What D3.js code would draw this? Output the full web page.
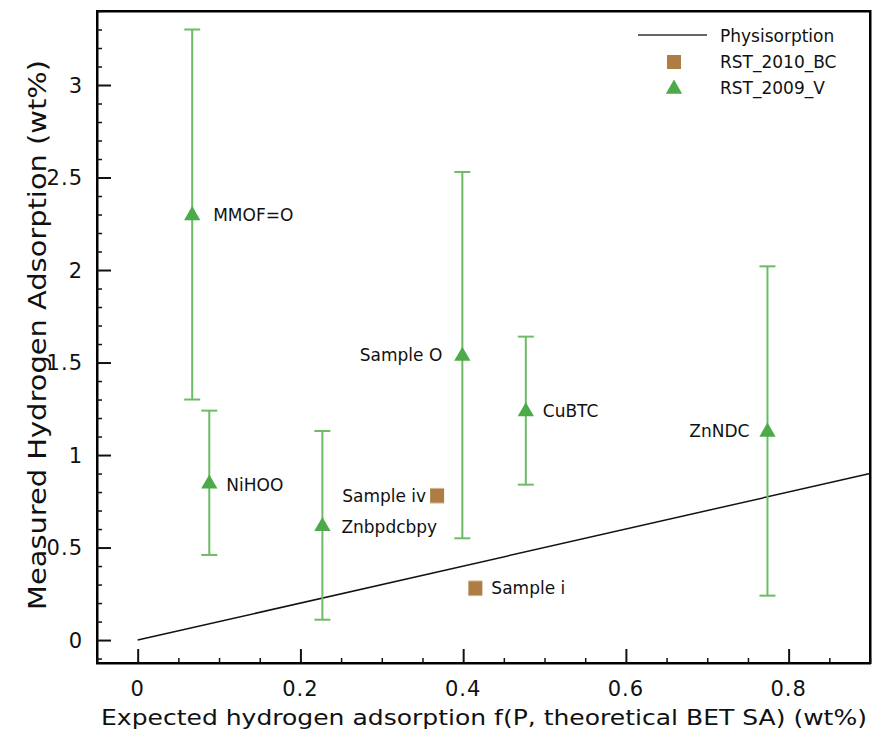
<!DOCTYPE html>
<html>
<head>
<meta charset="utf-8">
<script src="https://cdn.jsdelivr.net/npm/d3@7"></script>
<style>
  body { margin: 0; background: #fff; }
  text { font-family: "DejaVu Sans", Verdana, sans-serif; fill: #111; }
</style>
</head>
<body>
<svg id="chart" width="875" height="735"></svg>
<script>
// RST_2009_V (triangles)
const vNames = ['MMOF=O', 'NiHOO', 'Znbpdcbpy', 'Sample O', 'CuBTC', 'ZnNDC'];
const vX = [0.067, 0.088, 0.227, 0.399, 0.477, 0.774];
const vY = [2.30, 0.85, 0.62, 1.54, 1.24, 1.13];
const vErr = [1.00, 0.39, 0.51, 0.99, 0.40, 0.89];

// RST_2010_BC (squares)
const bcNames = ['Sample iv', 'Sample i'];
const bcX = [0.368, 0.415];
const bcY = [0.78, 0.28];
const bcErr = [0.04, 0.04];

// physisorption line y = x
const physX = [0, 0.9];
const physY = [0, 0.9];

const xTicks = [0, 0.2, 0.4, 0.6, 0.8];
const yTicks = [0, 0.5, 1, 1.5, 2, 2.5, 3];

const pl = 97, pt = 11, pr = 870, pb = 663;
const svg = d3.select('#chart');

const x = d3.scaleLinear().domain([-0.05, 0.9]).range([pl, pr]);
const y = d3.scaleLinear().domain([-0.124, 3.4]).range([pb, pt]);

// frame (drawn first, as four separate edges)
const frame = svg.append('g');
frame.append('rect').attr('x', pl - 1).attr('y', pt - 1).attr('width', pr - pl + 2).attr('height', 2.5).attr('fill', '#000');
frame.append('rect').attr('x', pr - 1).attr('y', pt - 1).attr('width', 2.5).attr('height', pb - pt + 2).attr('fill', '#000');
frame.append('rect').attr('x', pl - 1).attr('y', pb - 1).attr('width', pr - pl + 2).attr('height', 2.5).attr('fill', '#000');
frame.append('rect').attr('x', pl - 1).attr('y', pt - 1).attr('width', 2.5).attr('height', pb - pt + 2).attr('fill', '#000');

// minor ticks
const xMinor = d3.range(-0.05, 0.9001, 0.05).filter(v => Math.abs(v / 0.2 - Math.round(v / 0.2)) > 1e-6);
const yMinor = d3.range(-0.1, 3.4001, 0.1).filter(v => Math.abs(v / 0.5 - Math.round(v / 0.5)) > 1e-6);

svg.append('g')
  .attr('transform', 'translate(0,' + pb + ')')
  .call(d3.axisTop(x).tickValues(xMinor).tickSize(5).tickFormat(''))
  .call(g => g.select('.domain').remove())
  .selectAll('line').attr('stroke', '#111').attr('stroke-width', 1.5);

svg.append('g')
  .attr('transform', 'translate(0,' + pb + ')')
  .call(d3.axisTop(x).tickValues(xTicks).tickSize(14).tickFormat(''))
  .call(g => g.select('.domain').remove())
  .selectAll('line').attr('stroke', '#111').attr('stroke-width', 2);

svg.append('g')
  .attr('transform', 'translate(' + pl + ',0)')
  .call(d3.axisRight(y).tickValues(yMinor).tickSize(5).tickFormat(''))
  .call(g => g.select('.domain').remove())
  .selectAll('line').attr('stroke', '#111').attr('stroke-width', 1.5);

svg.append('g')
  .attr('transform', 'translate(' + pl + ',0)')
  .call(d3.axisRight(y).tickValues(yTicks).tickSize(14).tickFormat(''))
  .call(g => g.select('.domain').remove())
  .selectAll('line').attr('stroke', '#111').attr('stroke-width', 2);

// tick labels
svg.selectAll('.xl').data(xTicks).enter().append('text')
  .attr('x', d => x(d)).attr('y', 696)
  .attr('text-anchor', 'middle').attr('font-size', 21)
  .attr('letter-spacing', 1)
  .text(d => d);

svg.selectAll('.yl').data(yTicks).enter().append('text')
  .attr('x', 83).attr('y', d => y(d) + 7.5)
  .attr('text-anchor', 'end').attr('font-size', 21)
  .attr('letter-spacing', 1)
  .text(d => d);

// axis titles
svg.append('text')
  .attr('x', 484).attr('y', 725)
  .attr('text-anchor', 'middle').attr('font-size', 21)
  .attr('textLength', 766).attr('lengthAdjust', 'spacingAndGlyphs')
  .text('Expected hydrogen adsorption f(P, theoretical BET SA) (wt%)');

svg.append('text')
  .attr('transform', 'translate(46,335) rotate(-90)')
  .attr('text-anchor', 'middle').attr('font-size', 24)
  .attr('textLength', 550).attr('lengthAdjust', 'spacingAndGlyphs')
  .text('Measured Hydrogen Adsorption (wt%)');

// physisorption line
svg.append('path')
  .datum(physX.map((d, i) => [d, physY[i]]))
  .attr('d', d3.line().x(d => x(d[0])).y(d => y(d[1])))
  .attr('stroke', '#111').attr('stroke-width', 1.5).attr('fill', 'none');

const green = '#4caa48';
const greenBar = '#6dbb66';
const brown = '#ad7d43';

// error bars for triangles
const vData = vNames.map((n, i) => ({ name: n, x: vX[i], y: vY[i], e: vErr[i] }));
const ebar = svg.append('g').attr('stroke', greenBar).attr('stroke-width', 2);
vData.forEach(d => {
  ebar.append('line').attr('x1', x(d.x)).attr('x2', x(d.x))
    .attr('y1', y(d.y - d.e)).attr('y2', y(d.y + d.e));
  [d.y - d.e, d.y + d.e].forEach(v => {
    ebar.append('line').attr('x1', x(d.x) - 8).attr('x2', x(d.x) + 8)
      .attr('y1', y(v)).attr('y2', y(v));
  });
});

const tri = d3.symbol().type(d3.symbolTriangle).size(115);
svg.selectAll('.tri').data(vData).enter().append('path')
  .attr('d', tri)
  .attr('transform', d => 'translate(' + x(d.x) + ',' + (y(d.y) + 1) + ')')
  .attr('fill', green);

// squares with small error bars
const bcData = bcNames.map((n, i) => ({ name: n, x: bcX[i], y: bcY[i], e: bcErr[i] }));
const sbar = svg.append('g').attr('stroke', '#d8c0a0').attr('stroke-width', 1);
bcData.forEach(d => {
  [d.y - d.e, d.y + d.e].forEach(v => {
    sbar.append('line').attr('x1', x(d.x) - 7).attr('x2', x(d.x) + 7)
      .attr('y1', y(v)).attr('y2', y(v));
  });
});
svg.selectAll('.sq').data(bcData).enter().append('rect')
  .attr('x', d => x(d.x) - 7).attr('y', d => y(d.y) - 7)
  .attr('width', 14).attr('height', 14)
  .attr('fill', brown);

// point labels
const labelPos = {
  'MMOF=O': [21, 0, 'start'],
  'NiHOO': [17, 2, 'start'],
  'Znbpdcbpy': [19, 2, 'start'],
  'Sample O': [-20, 0, 'end'],
  'CuBTC': [17, 0, 'start'],
  'ZnNDC': [-18, 0, 'end'],
  'Sample iv': [-11, 0, 'end'],
  'Sample i': [16, 0, 'start']
};
vData.concat(bcData).forEach(d => {
  const p = labelPos[d.name];
  svg.append('text')
    .attr('x', x(d.x) + p[0]).attr('y', y(d.y) + p[1] + 6)
    .attr('text-anchor', p[2]).attr('font-size', 17)
    .text(d.name);
});

// legend
const lg = svg.append('g');
lg.append('line').attr('x1', 638).attr('x2', 707).attr('y1', 35).attr('y2', 35)
  .attr('stroke', '#333').attr('stroke-width', 1.5);
lg.append('rect').attr('x', 667).attr('y', 55).attr('width', 14).attr('height', 14).attr('fill', brown);
lg.append('path').attr('d', tri).attr('transform', 'translate(674,89)').attr('fill', green);
['Physisorption', 'RST_2010_BC', 'RST_2009_V'].forEach((t, i) => {
  lg.append('text').attr('x', 720).attr('y', 42 + i * 26)
    .attr('font-size', 17).text(t);
});
</script>
</body>
</html>
